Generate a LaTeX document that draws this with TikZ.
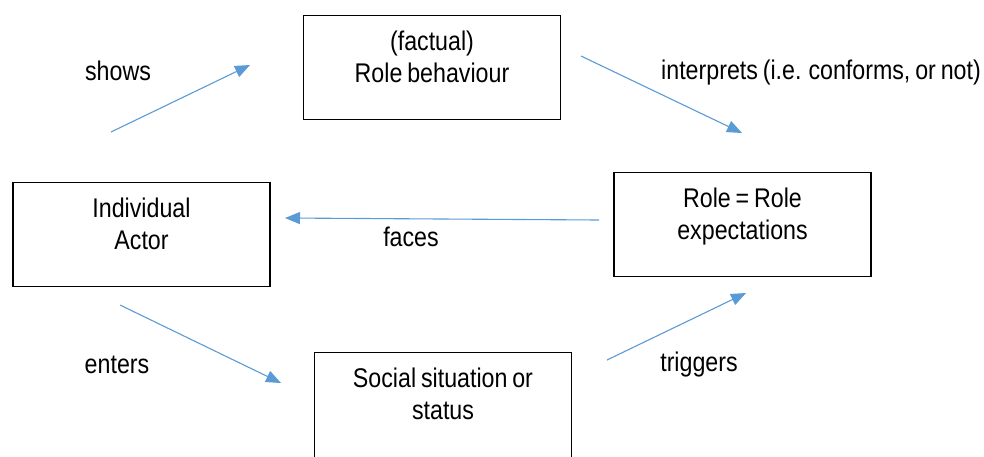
\documentclass[tikz,border=0pt]{standalone}
\usepackage{fontspec}
\setmainfont{Liberation Sans}[FakeStretch=0.86, WordSpace=0.75]
\usepackage{xcolor}
\usetikzlibrary{arrows.meta}
\definecolor{arrowblue}{RGB}{91,155,213}

\begin{document}
\begin{tikzpicture}[x=1pt, y=-1pt,
  box/.style={draw, line width=1.3pt, anchor=north, minimum width=257pt,
    inner ysep=14pt, text height=53pt, text depth=23pt,
    align=center, font=\fontsize{27}{32}\selectfont},
  lbl/.style={font=\fontsize{27}{32}\selectfont},
  flow/.style={-{Triangle[length=15pt,width=12pt]}, line width=1.1pt, arrowblue}]
\useasboundingbox (0,0) rectangle (984,456);

% boxes (placed by their top edge)
\node[box] (behaviour) at (432,15) {(factual)\\Role behaviour};
\node[box] (actor) at (141.5,182) {Individual\\Actor};
\node[box] (expect) at (742.5,172) {Role = Role\\expectations};
\node[box, text depth=48pt] (situation) at (443,352) {Social situation or\\status};

% arrow ends
\coordinate (showsA) at (111,132);
\coordinate (showsB) at (250,65);
\coordinate (interA) at (581,56);
\coordinate (interB) at (742,133);
\coordinate (facesA) at (599,220);
\coordinate (facesB) at (285,218);
\coordinate (entersA) at (120,305);
\coordinate (entersB) at (281,383);
\coordinate (trigA) at (607,360);
\coordinate (trigB) at (746,293);

\draw[flow] (showsA) -- (showsB);
\draw[flow] (interA) -- (interB);
\draw[flow] (facesA) -- (facesB);
\draw[flow] (entersA) -- (entersB);
\draw[flow] (trigA) -- (trigB);

% labels
\node[lbl] (shows) at (118,71) {shows};
\node[lbl] (interprets) at (821,73) {interprets (i.e. conforms, or not)};
\node[lbl] (faces) at (411,237) {faces};
\node[lbl] (enters) at (117,365) {enters};
\node[lbl] (triggers) at (699,365) {triggers};
\end{tikzpicture}
\end{document}
